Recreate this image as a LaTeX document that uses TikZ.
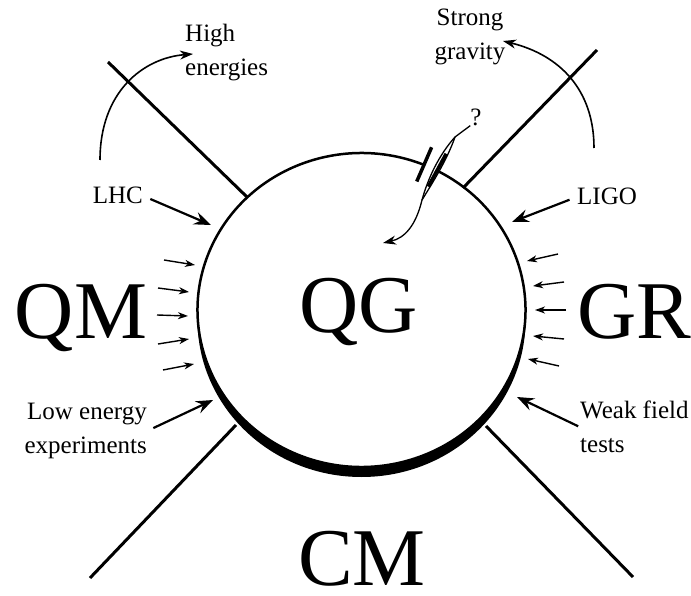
\documentclass[tikz,border=0pt]{standalone}
\usepackage{fontspec}
\setmainfont{Liberation Serif}
\usetikzlibrary{calc}
\usetikzlibrary{arrows.meta}

\begin{document}
\begin{tikzpicture}[
      x=1pt, y=-1pt,
      spoke/.style={line width=3pt},
      push/.style={line width=2.2pt, -{Stealth[length=17pt, width=13pt, inset=6pt]}},
      nudge/.style={line width=1.4pt, -{Stealth[length=10pt, width=7pt, inset=3pt]}},
      swing/.style={line width=1.6pt, -{Stealth[length=13pt, width=9pt, inset=4pt]}},
      small/.style={font=\fontsize{25}{34}\selectfont, inner sep=0pt},
      big/.style={font=\fontsize{82}{90}\selectfont, inner sep=0pt}
    ]
    \useasboundingbox (0,0) rectangle (691,596);
    % circulo com sombra
    \coordinate (c) at (361.5,310);
    \fill ([yshift=-10pt]c) ellipse [x radius=164, y radius=157];
    \fill[white] (c) ellipse [x radius=164, y radius=157];
    \draw[line width=2.5pt] ($(c)+(-62.6:164 and 157)$) arc[start angle=-62.6, end angle=292.4, x radius=164, y radius=157];
    \draw[line width=3.5pt] ($(c)+(-67.6:145 and 139)$) -- ($(c)+(-67.6:184 and 176)$);
    \draw[line width=3.5pt] ($(c)+(-62.6:145 and 139)$) -- ($(c)+(-62.6:184 and 176)$);

    % raios
    \coordinate (ul out) at (108,62);
    \coordinate (ul in) at (247,197);
    \coordinate (ur out) at (597,50);
    \coordinate (ur in) at (463,188);
    \coordinate (ll out) at (90,578);
    \coordinate (ll in) at (236,425);
    \coordinate (lr out) at (633,577);
    \coordinate (lr in) at (486,426);
    \draw[spoke] (ul out) -- (ul in);
    \draw[spoke] (ur out) -- (ur in);
    \draw[spoke] (ll out) -- (ll in);
    \draw[spoke] (lr out) -- (lr in);

    % textos
    \node[big, anchor=base] (qm) at (81,338) {QM};
    \node[big, anchor=base] (qg) at (359,332) {QG};
    \node[big, anchor=base] (gr) at (634,338) {GR};
    \node[big, anchor=base] (cm) at (362,585) {CM};
    \node[small, anchor=base east] (lhc) at (143,204) {LHC};
    \node[small, anchor=base west] (ligo) at (577,205) {LIGO};
    \node[small, anchor=north west, align=left] (high) at (185,24) {High\\energies};
    \node[small, anchor=north, align=center] (strong) at (470,9) {Strong\\gravity};
    \node[small, anchor=north east, align=right] (low) at (147,403) {Low energy\\experiments};
    \node[small, anchor=north west, align=left] (weak) at (580,401) {Weak field\\tests};
    \node[small] (quest) at (476,117) {?};

    % setas
    \coordinate (lhc tip) at (211,225);
    \coordinate (ligo tip) at (512,222);
    \coordinate (low tip) at (213,400);
    \coordinate (weak tip) at (517,397);
    \draw[push, shorten <=8pt] (lhc.east) -- (lhc tip);
    \draw[push, shorten <=8pt] (ligo.west) -- (ligo tip);
    \draw[push, shorten <=7pt] (low.east) -- (low tip);
    \draw[push, shorten <=2pt] (weak.west) -- (weak tip);

    \coordinate (high foot) at (100,160);
    \coordinate (high tip) at (193,54);
    \coordinate (strong foot) at (594,148);
    \coordinate (strong tip) at (503,41);
    \draw[swing] (high foot) .. controls (100,92) and (143,58) .. (high tip);
    \draw[swing] (strong foot) .. controls (594,90) and (560,55) .. (strong tip);

    \coordinate (split) at (455,137);
    \coordinate (merge) at (422,200);
    \coordinate (quest tip) at (383,243);
    \draw[line width=1.3pt] (quest.south west) -- (split) .. controls (439,155) and (428,178) .. (merge);
    \draw[line width=1.3pt] (split) .. controls (447,160) and (433,182) .. (merge);
    \draw[swing, line width=1.3pt] (merge) .. controls (416,225) and (405,238) .. (quest tip);

    \draw[nudge] (164,260) -- (195,265);
    \draw[nudge] (158,288) -- (189,292);
    \draw[nudge] (157,315) -- (188,316);
    \draw[nudge] (158,344) -- (189,339);
    \draw[nudge] (163,370) -- (194,364);
    \draw[nudge] (558,254) -- (527,261);
    \draw[nudge] (564,282) -- (533,286);
    \draw[nudge] (566,310) -- (535,310);
    \draw[nudge] (564,339) -- (533,336);
    \draw[nudge] (559,366) -- (528,359);
  \end{tikzpicture}
\end{document}
